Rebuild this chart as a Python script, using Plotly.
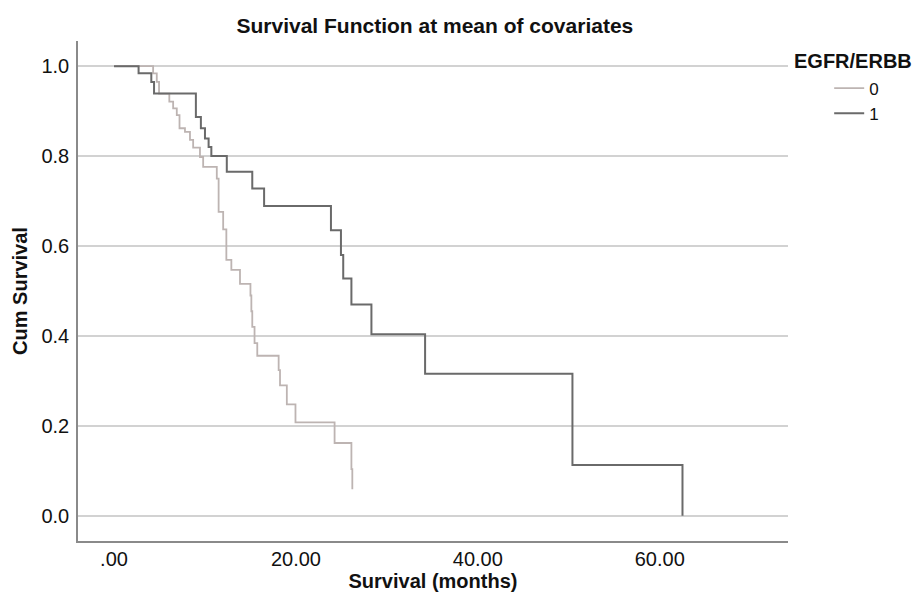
import plotly.graph_objects as go

# Group 0 (EGFR/ERBB = 0)
t0 = [0, 4.3, 4.7, 4.95, 6.08, 6.5, 6.9, 7.2, 7.8, 8.35, 8.7, 9.45, 9.8, 11.3, 11.5,
      12.0, 12.35, 12.9, 13.85, 15.0, 15.1, 15.2, 15.45, 15.75, 18.1, 18.25, 19.0,
      19.95, 24.25, 26.1, 26.2]
s0 = [1.0, 0.984, 0.965, 0.939, 0.921, 0.906, 0.891, 0.862, 0.854, 0.836, 0.819, 0.798,
      0.776, 0.75, 0.676, 0.637, 0.569, 0.547, 0.516, 0.49, 0.455, 0.42, 0.384, 0.356,
      0.324, 0.29, 0.248, 0.208, 0.162, 0.104, 0.059]

# Group 1 (EGFR/ERBB = 1)
t1 = [0, 2.7, 4.1, 4.4, 9.0, 9.55, 10.0, 10.4, 10.7, 12.4, 15.2, 16.5, 23.85, 24.95,
      25.2, 26.1, 28.3, 34.2, 50.4, 62.5]
s1 = [1.0, 0.984, 0.965, 0.939, 0.887, 0.862, 0.839, 0.82, 0.80, 0.765, 0.728, 0.689,
      0.635, 0.58, 0.528, 0.470, 0.404, 0.316, 0.113, 0.0]

x_tickvals = [0, 20, 40, 60]
x_ticktext = [".00", "20.00", "40.00", "60.00"]
y_tickvals = [0.0, 0.2, 0.4, 0.6, 0.8, 1.0]
y_ticktext = ["0.0", "0.2", "0.4", "0.6", "0.8", "1.0"]

FONT = "Liberation Sans, Arial, sans-serif"
TXT = "#111111"

fig = go.Figure()
fig.add_trace(go.Scatter(x=t0, y=s0, mode="lines", line_shape="hv", name="0",
                         line=dict(color="#bdb4b2", width=1.8)))
fig.add_trace(go.Scatter(x=t1, y=s1, mode="lines", line_shape="hv", name="1",
                         line=dict(color="#6a6a6a", width=2)))

fig.update_layout(
    width=920, height=592,
    margin=dict(l=70, r=140, t=33, b=59),
    paper_bgcolor="white", plot_bgcolor="white",
    font=dict(family=FONT, size=20, color=TXT),
    title=dict(text="<b>Survival Function at mean of covariates</b>",
               x=0.464, xanchor="center", xref="container",
               y=0.971, yanchor="middle", yref="container",
               font=dict(family=FONT, size=21, color=TXT)),
    showlegend=True,
    legend=dict(x=1.058, xanchor="left", y=0.941, yanchor="top",
                tracegroupgap=0, bgcolor="rgba(0,0,0,0)",
                font=dict(family=FONT, size=17, color=TXT),
                itemwidth=30),
    annotations=[dict(text="<b>EGFR/ERBB</b>", xref="paper", yref="paper",
                      x=1.0057, y=0.961, xanchor="left", yanchor="middle",
                      showarrow=False,
                      font=dict(family=FONT, size=20, color=TXT))],
)

fig.update_xaxes(
    range=[-3.96, 74.1], tickvals=x_tickvals, ticktext=x_ticktext,
    showgrid=False, zeroline=False, showline=True, linecolor="#8a8a8a", linewidth=1.5,
    ticks="", ticklabelstandoff=-1, automargin=False,
    title=dict(text="<b>Survival (months)</b>", standoff=0,
               font=dict(family=FONT, size=20, color=TXT)),
    tickfont=dict(family=FONT, size=20, color=TXT),
)
fig.update_yaxes(
    range=[-0.056, 1.056], tickvals=y_tickvals, ticktext=y_ticktext,
    showgrid=True, gridcolor="#d2d2d2", gridwidth=1.8,
    zeroline=False, showline=True, linecolor="#8a8a8a", linewidth=1.5,
    ticks="", ticklabelstandoff=3, automargin=False,
    title=dict(text="<b>Cum Survival</b>", standoff=8,
               font=dict(family=FONT, size=20, color=TXT)),
    tickfont=dict(family=FONT, size=20, color=TXT),
)

fig.write_html("out.html")
